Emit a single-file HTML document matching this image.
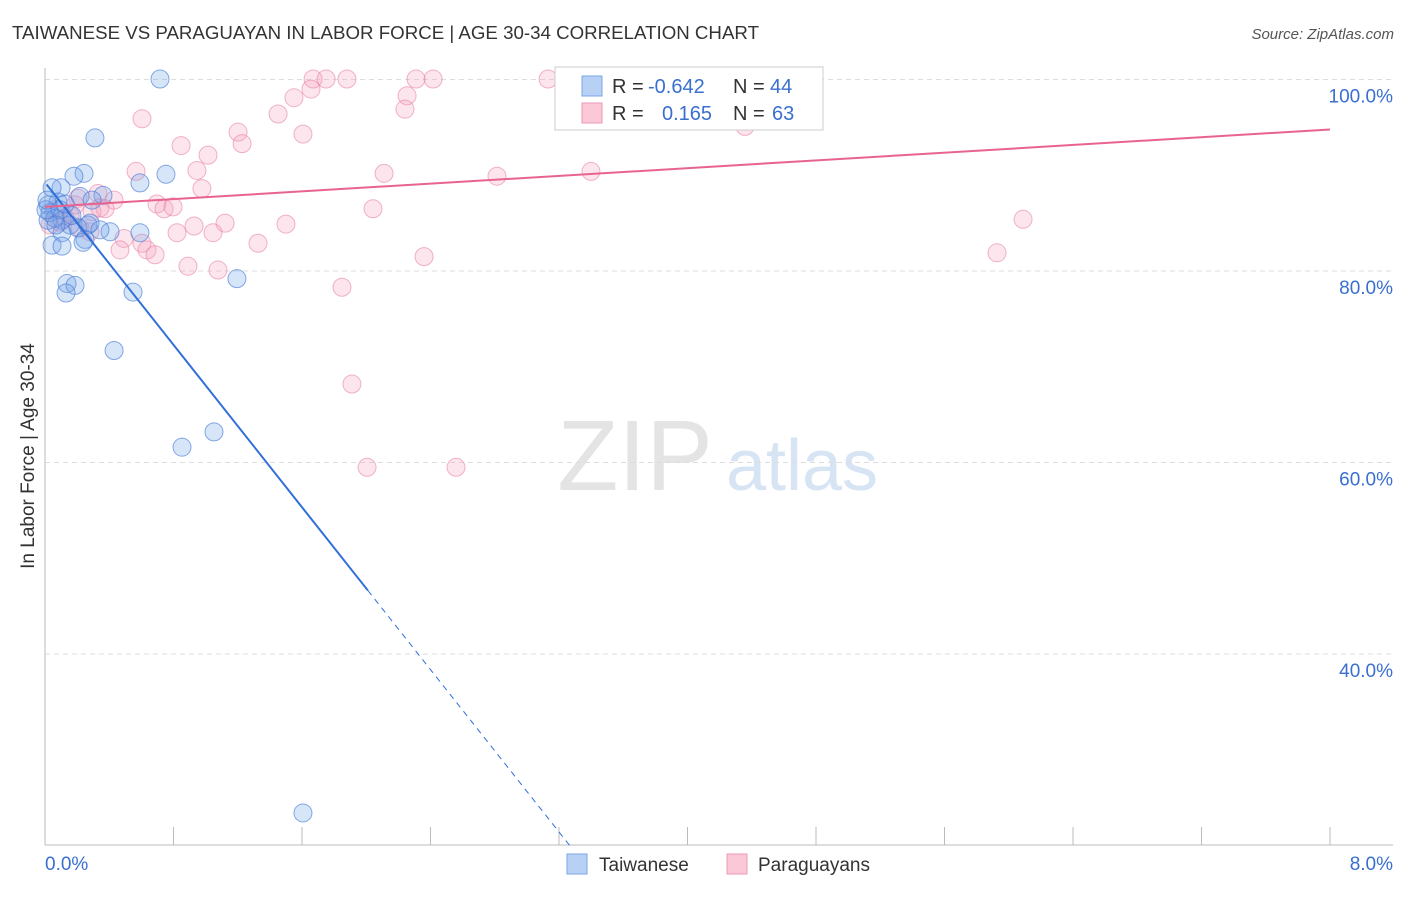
<!DOCTYPE html>
<html><head><meta charset="utf-8"><style>
body{margin:0;background:#fff;font-family:"Liberation Sans",sans-serif;}
svg text{font-family:"Liberation Sans",sans-serif;}
</style></head><body>
<svg id="c" width="1406" height="892">
<text x="12" y="39" font-size="18" fill="#333" textLength="747" lengthAdjust="spacingAndGlyphs">TAIWANESE VS PARAGUAYAN IN LABOR FORCE | AGE 30-34 CORRELATION CHART</text>
<text x="1394" y="39" font-size="15" fill="#555" text-anchor="end" font-style="italic">Source: ZipAtlas.com</text>
<text x="0" y="0" font-size="19" fill="#333" transform="translate(34,456) rotate(-90)" text-anchor="middle">In Labor Force | Age 30-34</text>
<g><text x="635" y="490" font-size="100" fill="#e4e4e4" font-family="Liberation Serif" text-anchor="middle">ZIP</text><text x="802" y="490" font-size="72" fill="#d6e4f4" text-anchor="middle">atlas</text></g>
<g id="grid"></g><g id="marks"></g>
<g>
<rect x="555" y="67" width="268" height="63" fill="#fff" stroke="#ccc"/>
<rect x="582" y="76" width="20" height="20" fill="#b8d0f4" stroke="#7aa6e6"/>
<rect x="582" y="103" width="20" height="20" fill="#fbc8d8" stroke="#eb9ab6"/>
<text x="612" y="93" font-size="20" fill="#333">R = </text><text x="648" y="93" font-size="20" fill="#3a6fd0">-0.642</text>
<text x="733" y="93" font-size="20" fill="#333">N = </text><text x="770" y="93" font-size="20" fill="#3a6fd0">44</text>
<text x="612" y="120" font-size="20" fill="#333">R = </text><text x="662" y="120" font-size="20" fill="#3a6fd0">0.165</text>
<text x="733" y="120" font-size="20" fill="#333">N = </text><text x="772" y="120" font-size="20" fill="#3a6fd0">63</text>
</g>
<g>
<rect x="567" y="854" width="20" height="20" fill="#b8d0f4" stroke="#7aa6e6"/><text x="599" y="871" font-size="19" fill="#333">Taiwanese</text>
<rect x="727" y="854" width="20" height="20" fill="#fbc8d8" stroke="#eb9ab6"/><text x="758" y="871" font-size="19" fill="#333">Paraguayans</text>
</g>
</svg>
<script>
const blueX=[0.716,0.311,0.243,0.180,0.591,0.753,0.100,0.044,0.218,0.361,0.081,0.019,0.031,0.106,0.156,0.205,0.268,0.405,0.591,0.106,0.249,0.044,0.106,0.137,0.187,0.131,0.548,1.195,0.430,0.853,1.052,1.606,0.019,0.062,0.006,0.280,0.093,0.342,0.168,0.237,0.068,0.125,0.293,0.012];
const blueY=[100.05,93.9,90.2,89.9,89.2,90.1,88.7,88.7,87.8,87.9,87.2,86.9,86.1,85.3,84.8,84.5,84.8,84.1,84.0,84.0,83.3,82.7,82.6,78.7,78.5,77.7,77.8,79.2,71.7,61.6,63.2,23.4,85.3,85.5,86.4,85.0,86.4,84.3,85.8,83.0,84.8,87.0,87.4,87.4];
const pinkX=[1.669,1.750,1.880,2.310,2.416,3.132,4.215,1.656,1.550,2.254,2.241,1.451,0.604,1.202,1.606,1.227,0.847,1.015,0.567,0.946,2.111,2.814,3.399,4.358,0.977,0.330,0.430,0.205,0.697,0.741,0.797,0.374,0.293,2.042,6.089,1.121,1.500,0.928,0.822,1.046,0.492,0.604,0.467,0.635,0.685,1.326,2.360,5.927,0.890,1.077,1.849,1.911,2.005,2.559,0.156,0.093,0.218,0.280,0.062,0.125,0.031,0.187,0.342];
const pinkY=[100.05,100.05,100.05,100.05,100.05,100.05,100.05,99.0,98.1,98.3,96.9,96.4,95.9,94.5,94.3,93.3,93.1,92.1,90.4,90.5,90.2,89.9,90.4,95.1,88.6,88.1,87.4,87.6,87.0,86.5,86.7,86.5,86.2,86.5,85.4,85.0,84.9,84.7,84.0,84.0,83.4,82.9,82.2,82.2,81.7,82.9,81.5,81.9,80.5,80.1,78.3,68.2,59.5,59.5,85.8,85.1,84.5,84.1,86.4,85.5,84.8,86.9,86.6];
const yTicks=[100,80,60,40];
const xTickLabels=["0.0%","8.0%"];
const blueTrend=[89.25,-21.2];
const pinkTrend=[86.7,1.01];
const X=v=>45+v/8*1285, Y=v=>1037-v*9.575;
const NS="http://www.w3.org/2000/svg";
function mk(t,a,p){const e=document.createElementNS(NS,t);for(const k in a)e.setAttribute(k,a[k]);p.appendChild(e);return e;}
const g=document.getElementById('grid'),m=document.getElementById('marks');
yTicks.forEach(v=>{const l=mk('line',{x1:45,x2:1393,y1:Y(v),y2:Y(v),stroke:'#ddd','stroke-dasharray':'5,4'},g);


const t=mk('text',{x:1393,y:Y(v)+23,'font-size':19,fill:'#3a6fd0','text-anchor':'end'},g);t.textContent=v.toFixed(1)+'%';

});
const ax=mk('line',{x1:45,x2:45,y1:68,y2:845,stroke:'#bbb'},g);


const bx=mk('line',{x1:45,x2:1393,y1:845,y2:845,stroke:'#bbb'},g);


for(let i=0;i<=10;i++){const t=mk('line',{x1:X(i*0.8),x2:X(i*0.8),y1:827,y2:845,stroke:'#bbb'},g);

}
const t0=mk('text',{x:45,y:870,'font-size':19,fill:'#3a6fd0'},g);t0.textContent=xTickLabels[0];


const t1=mk('text',{x:1393,y:870,'font-size':19,fill:'#3a6fd0','text-anchor':'end'},g);t1.textContent=xTickLabels[1];


pinkX.forEach((x,i)=>{const c=mk('circle',{cx:X(x),cy:Y(pinkY[i]),r:9,fill:'rgba(245,160,190,0.28)',stroke:'rgba(232,130,165,0.6)'},m);

});
blueX.forEach((x,i)=>{const c=mk('circle',{cx:X(x),cy:Y(blueY[i]),r:9,fill:'rgba(110,160,235,0.28)',stroke:'rgba(70,125,215,0.65)'},m);

});
const bf=x=>blueTrend[0]+blueTrend[1]*x, pf=x=>pinkTrend[0]+pinkTrend[1]*x;
const x2=(20-blueTrend[0])/blueTrend[1];
const bl=mk('line',{x1:X(0.01),y1:Y(bf(0.01)),x2:X(2.01),y2:Y(bf(2.01)),stroke:'#2f6fd8','stroke-width':2},m);


const bd=mk('line',{x1:X(2.01),y1:Y(bf(2.01)),x2:X(x2),y2:Y(20),stroke:'#2f6fd8','stroke-width':1,'stroke-dasharray':'6,5'},m);


const pl=mk('line',{x1:X(0),y1:Y(pf(0)),x2:X(8),y2:Y(pf(8)),stroke:'#e8648f','stroke-width':2},m);


</script>
</body></html>
